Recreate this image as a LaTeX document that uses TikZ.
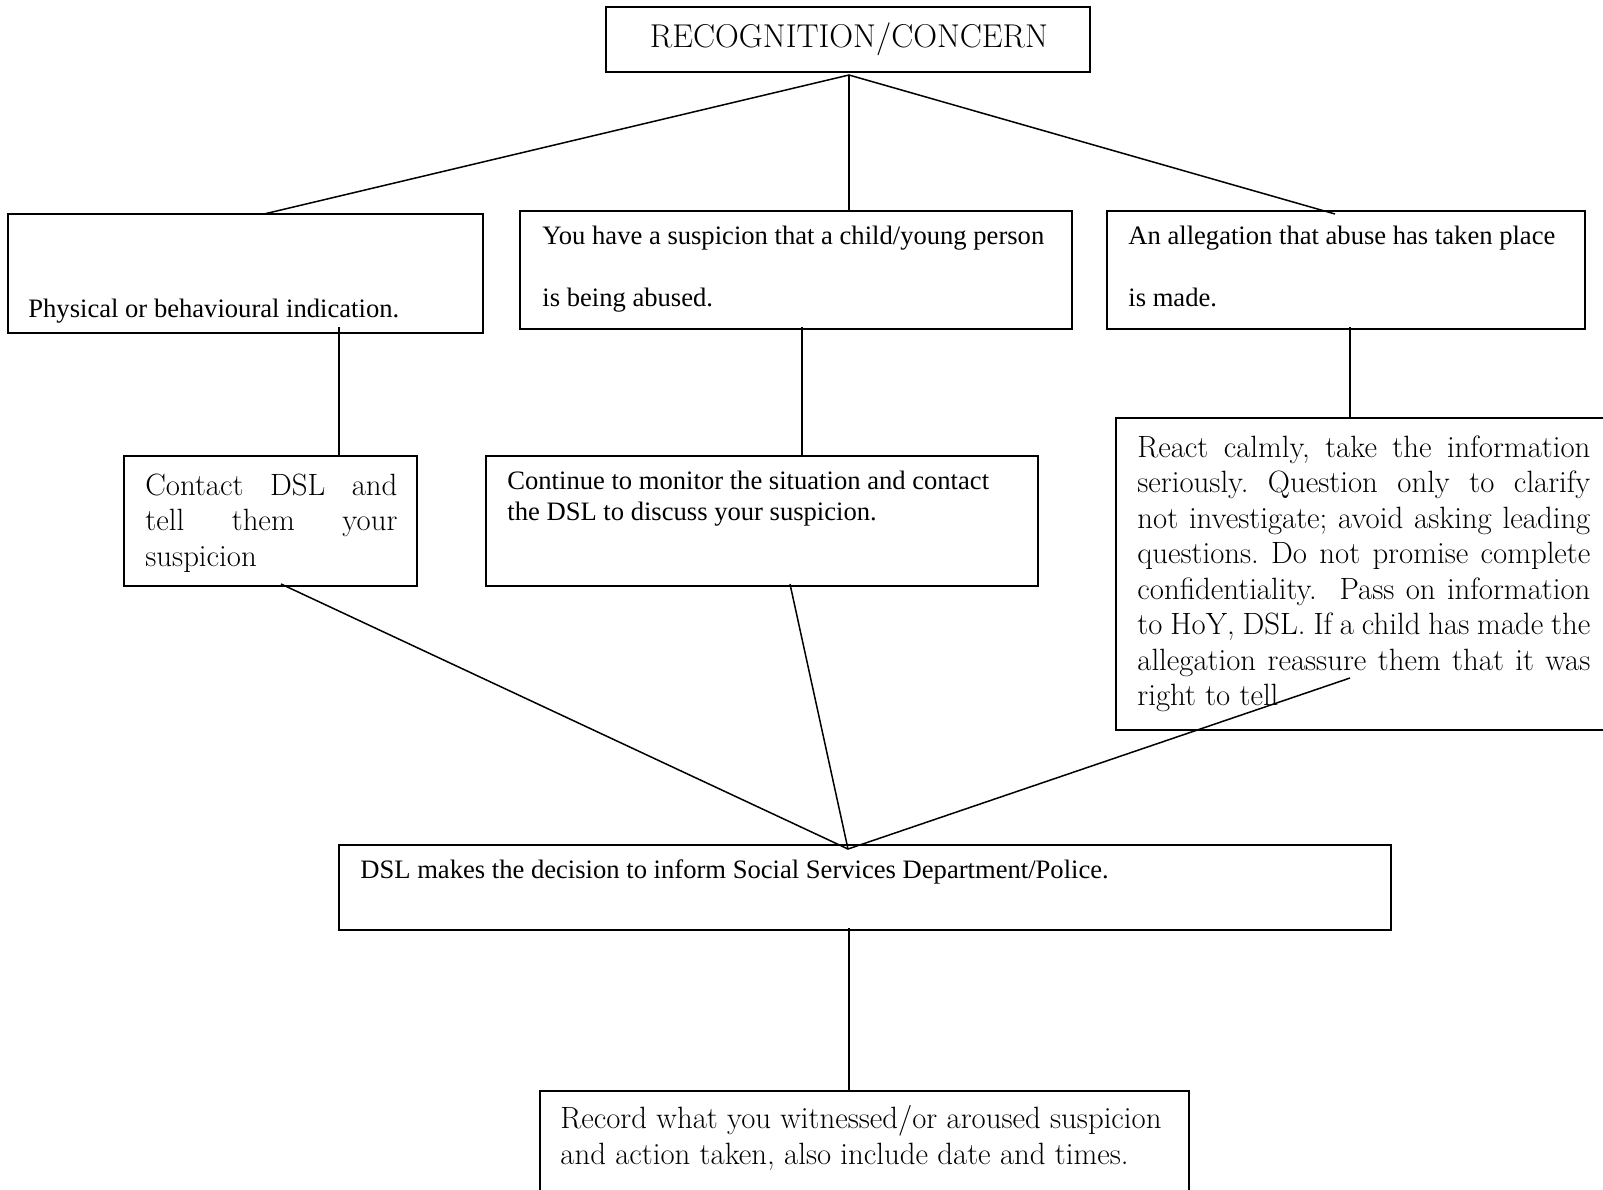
\documentclass[tikz,border=0pt]{standalone}
\usepackage{fontspec}
\setmainfont{Latin Modern Roman}
\newfontfamily\tnr{Liberation Serif}
\usetikzlibrary{fit}
\frenchspacing
\tikzset{
  box/.style={draw, line width=0.85pt, inner sep=0pt},
  conn/.style={line width=0.75pt},
  gar/.style={inner sep=0pt, anchor=base west, font=\fontsize{15.4pt}{17.75pt}\selectfont},
  tms/.style={inner sep=0pt, anchor=base west, font=\tnr\fontsize{13.3pt}{15.35pt}\selectfont},
}
\begin{document}
\begin{tikzpicture}[x=0.5pt,y=-0.5pt]
\useasboundingbox (0,0) rectangle (1603,1190);
\clip (0,0) rectangle (1603,1190);
\fill[white] (0,0) rectangle (1603,1190);

% boxes
\node[box, fit={(606,7)(1090,72)}] (T) {};
\node[box, fit={(8,214)(483,333)}] (A) {};
\node[box, fit={(520,211)(1072,329)}] (B) {};
\node[box, fit={(1107,211)(1585,329)}] (C) {};
\node[box, fit={(124,456)(417,586)}] (D) {};
\node[box, fit={(486,456)(1038,586)}] (E) {};
\node[box, fit={(1116,418)(1630,730)}] (F) {};
\node[box, fit={(339,845)(1391,930)}] (G) {};
\node[box, fit={(540,1091)(1189,1210)}] (H) {};

% texts
\node[inner sep=0pt, anchor=base, font=\fontsize{16.5pt}{19pt}\selectfont] (tT) at (849,47) {RECOGNITION/CONCERN};
\node[tms] (tA) at (28,317) {Physical or behavioural indication.};
\node[tms] (tB1) at (542,244) {You have a suspicion that a child/young person};
\node[tms] (tB2) at (542,306) {is being abused.};
\node[tms] (tC1) at (1128,244) {An allegation that abuse has taken place};
\node[tms] (tC2) at (1128,306) {is made.};
\node[gar] (tD) at (145,495) {\parbox[t]{126pt}{Contact DSL and\linebreak tell them your\linebreak suspicion}};
\node[tms] (tE1) at (507,489) {Continue to monitor the situation and contact};
\node[tms] (tE2) at (507,520) {the DSL to discuss your suspicion.};
\node[gar] (tF) at (1137,457) {\parbox[t]{226.5pt}{React calmly, take the information\linebreak seriously. Question only to clarify\linebreak not investigate; avoid asking leading\linebreak questions. Do not promise complete\linebreak confidentiality.\ \ Pass on information\linebreak to HoY, DSL. If a child has made the\linebreak allegation reassure them that it was\linebreak right to tell}};
\node[tms] (tG) at (360,878) {DSL makes the decision to inform Social Services Department/Police.};
\node[gar] (tH1) at (560,1128) {Record what you witnessed/or aroused suspicion};
\node[gar] (tH2) at (560,1164) {and action taken, also include date and times.};

% connector points
\coordinate (apex) at (849,75);
\coordinate (aIn) at (264,214);
\coordinate (cIn) at (1335,214);
\coordinate (aOut) at (339,327);
\coordinate (bOut) at (802,327);
\coordinate (cOut) at (1350,327);
\coordinate (dOut) at (281,584);
\coordinate (eOut) at (790,584);
\coordinate (fOut) at (1350,678);
\coordinate (gIn) at (848,849);
\coordinate (gOut) at (849,928);

% connectors
\draw[conn] (aIn) -- (apex) -- (cIn);
\draw[conn] (apex) -- (apex |- B.north);
\draw[conn] (aOut) -- (aOut |- D.north);
\draw[conn] (bOut) -- (bOut |- E.north);
\draw[conn] (cOut) -- (cOut |- F.north);
\draw[conn] (dOut) -- (gIn) -- (fOut);
\draw[conn] (eOut) -- (gIn);
\draw[conn] (gOut) -- (gOut |- H.north);
\end{tikzpicture}
\end{document}
